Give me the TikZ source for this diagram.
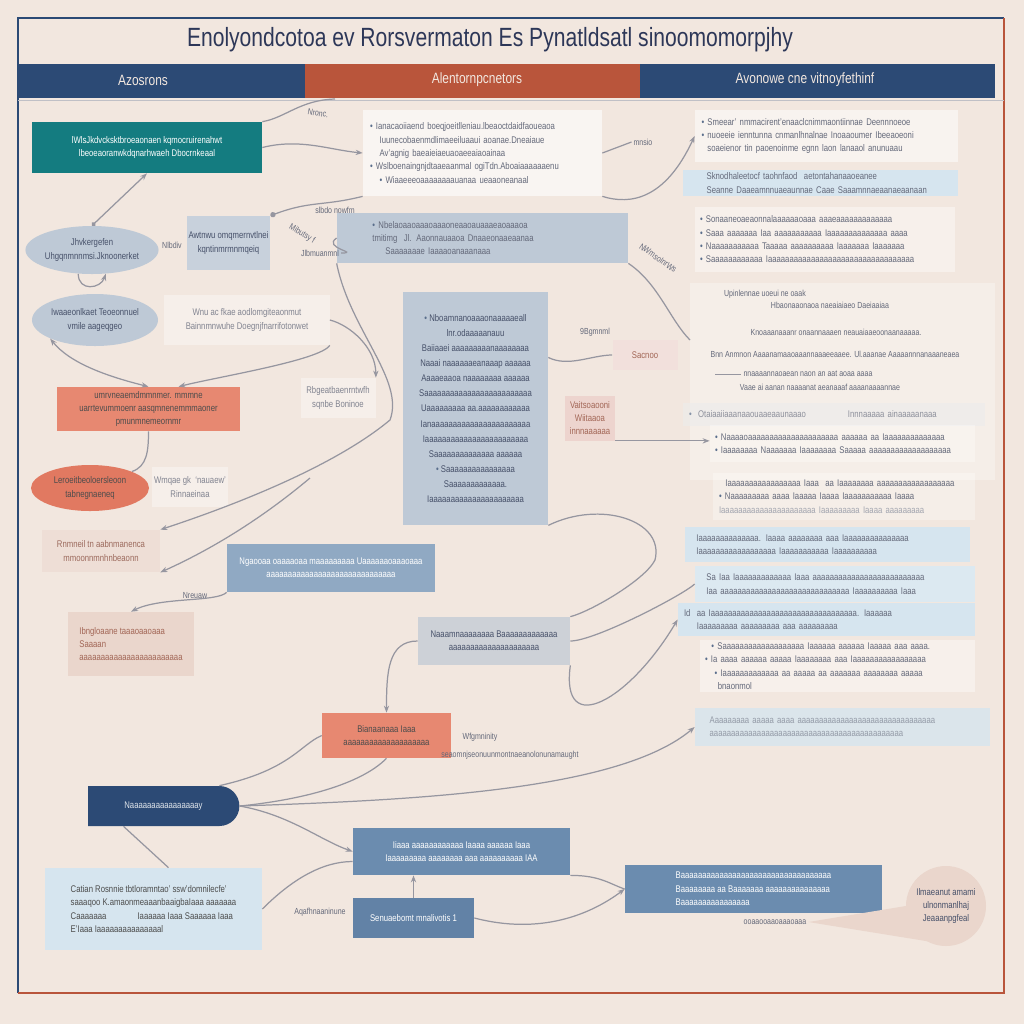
\documentclass[tikz,border=0pt]{standalone}
\usepackage{fontspec}
\setmainfont[FakeStretch=0.8]{Liberation Sans}
\usetikzlibrary{arrows.meta,shapes.geometric,shapes.misc}
\definecolor{bgc}{RGB}{242,231,223}
\definecolor{navyc}{RGB}{44,74,117}
\definecolor{rustc}{RGB}{185,85,59}
\definecolor{titlec}{RGB}{45,55,88}
\definecolor{tealc}{RGB}{20,124,128}
\definecolor{gbluec}{RGB}{190,201,214}
\definecolor{orangec}{RGB}{231,136,113}
\definecolor{orangedc}{RGB}{225,121,97}
\definecolor{linec}{RGB}{150,150,160}
\definecolor{txtc}{RGB}{70,80,105}
\definecolor{paletxt}{RGB}{100,105,122}
\definecolor{steelc}{RGB}{107,140,175}
\definecolor{peachc}{RGB}{234,214,204}
\definecolor{lbluec}{RGB}{214,229,239}
\definecolor{bulc}{RGB}{90,110,140}
\newcommand\bul{\textcolor{bulc}{\textbullet}\ }
\tikzset{
  box/.style={rectangle, inner sep=1pt, align=center, text=txtc, font=\fontsize{5.5}{7.6}\selectfont},
  oval/.style={box, ellipse, inner sep=0pt},
  panel/.style={box, align=left, text=paletxt},
  faint/.style={box, fill=white, fill opacity=.35, text opacity=.8, text=paletxt},
  tag/.style={font=\fontsize{5}{6}\selectfont, text=paletxt, inner sep=1pt},
  wire/.style={draw=linec, line width=.7pt},
  conn/.style={wire, -{Stealth[length=4pt,width=3pt]}},
}
\begin{document}
\begin{tikzpicture}[x=0.2mm, y=-0.2mm]
\useasboundingbox (0,0) rectangle (1024,1024);
\fill[bgc] (0,0) rectangle (1024,1024);
\draw[navyc, line width=1pt] (18,993) -- (18,18) -- (1004,18);
\draw[rustc, line width=.8pt] (1004,18) -- (1004,993) -- (18,993);
\node[font=\fontsize{15}{18}\selectfont, text=titlec] (title) at (490,40) {Enolyondcotoa ev Rorsvermaton Es Pynatldsatl sinoomomorpjhy};
\fill[navyc] (18,64) rectangle (305,98);
\fill[rustc] (305,64) rectangle (640,98);
\fill[navyc] (640,64) rectangle (995,98);
\draw[linec!60] (18,100) -- (1004,100);
\node[font=\fontsize{8.5}{10}\selectfont, text=bgc] (h1) at (143,80) {Azosrons};
\node[font=\fontsize{8.5}{10}\selectfont, text=bgc] (h2) at (477,80) {Alentornpcnetors};
\node[font=\fontsize{8.5}{10}\selectfont, text=bgc] (h3) at (805,80) {Avonowe cne vitnoyfethinf};

\node[box, fill=tealc, text=white, minimum width=46mm, minimum height=10.2mm] (teal) at (147,147.5) {lWlsJkdvcksktbroeaonaen kqmocruirenahwt\\ lbeoeaoranwkdqnarhwaeh Dbocrnkeaal};
\node[oval, fill=gbluec, minimum width=23.2mm, minimum height=9.6mm] (hub) at (92,250) {Jhvkergefen\\ Uhgqnmnnmsi.Jknoonerket};
\node[box, fill=gbluec!85, minimum width=16.6mm, minimum height=10.8mm] (gate) at (228.5,243) {Awtnwu omqmernvtlnei\\ kqntinmrmnmqeiq};
\node[oval, fill=gbluec, minimum width=25.2mm, minimum height=10.4mm] (pool) at (95,320) {Iwaaeonlkaet Teoeonnuel\\ vmile aageqgeo};
\node[faint, minimum width=33mm, minimum height=10mm] (note1) at (247,320) {Wnu ac fkae aodlomgiteaonmut\\ Bainnmnwuhe Doegnjfnarrifotonwet};
\node[box, fill=orangec, text=black!70, minimum width=36.6mm, minimum height=8.8mm] (obox1) at (148.5,409) {umrvneaemdmmnmer. mmmne\\ uarrtevummoenr aasqmnenemmmaoner\\ pmunmnemeornmr};
\node[oval, fill=orangedc, text=black!70, minimum width=23.6mm, minimum height=9.2mm] (oell) at (90,488) {Leroeitbeoloersleoon\\ tabnegnaeneq};
\node[faint, minimum width=15mm, minimum height=8mm] (note2) at (190,487) {Wmqae gk \ `nauaew'\\ Rinnaeinaa};
\node[box, fill=peachc!80, text=rustc!50!gray, minimum width=23.6mm, minimum height=8.4mm] (bbox1) at (101,551) {Rnmneil tn aabnmanenca\\ mmoonnmnhnbeaonn};
\node[faint, minimum width=15mm, minimum height=8mm] (note3) at (338,398) {Rbgeatbaenrntwfh\\ sqnbe Boninoe};

\node[panel, fill=white, fill opacity=.6, text opacity=1, minimum width=47.8mm, minimum height=17.2mm, text width=45mm] (list1) at (482.5,153) {\bul Ianacaoiiaend boeqjoeitlleniau.lbeaoctdaidfaoueaoa\\ \quad Iuunecobaenmdlimaeeiluaaui aoanae.Dneaiaue\\ \quad Av'agnig baeaieiaeuaoaeeaiaoainaa\\ \bul Wslboenaingnjdtaaeaanmal ogiTdn.Aboaiaaaaaaenu\\ \quad\bul Wiaaeeeoaaaaaaaauanaa ueaaoneanaal};
\node[panel, fill=gbluec, minimum width=58.2mm, minimum height=10mm, text width=44mm] (mbox) at (482.5,238) {\bul Nbelaoaaoaaaoaaaoneaaoauaaaeaoaaaoa\\ tmitimg \ Jl. Aaonnauaaoa Dnaaeonaaeaanaa\\ \quad\ Saaaaaaae Iaaaaoanaaanaaa};
\node[box, fill=gbluec, minimum width=29mm, minimum height=46.6mm, font=\fontsize{5.5}{8.6}\selectfont] (stack) at (475.5,408.5) {\bul Nboamnanoaaaonaaaaaeall\\ lnr.odaaaaanauu\\ Baiiaaei aaaaaaaaanaaaaaaaa\\ Naaai naaaaaaeanaaap aaaaaa\\ Aaaaeaaoa naaaaaaaa aaaaaa\\ Saaaaaaaaaaaaaaaaaaaaaaaaa\\ Uaaaaaaaaa aa.aaaaaaaaaaaa\\ Ianaaaaaaaaaaaaaaaaaaaaaaa\\ Iaaaaaaaaaaaaaaaaaaaaaaaa\\ Saaaaaaaaaaaaaa aaaaaa\\ \bul Saaaaaaaaaaaaaaaa\\ Saaaaaaaaaaaaa.\\ Iaaaaaaaaaaaaaaaaaaaaaa};
\node[box, fill=rustc!25, text=rustc!60!gray, minimum width=10mm, minimum height=9mm] (note4) at (590,418) {Vaitsoaooni\\ Wiitaaoa\\ innnaaaaaa};
\node[box, fill=rustc!18, text=rustc!60!gray, minimum width=13mm, minimum height=6mm] (note5) at (645,355) {Sacnoo};
\node[tag] (lb9) at (595,332) {9Bgmnml};
\node[box, fill=steelc!75, text=white, minimum width=41.6mm, minimum height=9.6mm] (gbox) at (331,568) {Ngaooaa oaaaaoaa maaaaaaaaa Uaaaaaaoaaaoaaa\\ aaaaaaaaaaaaaaaaaaaaaaaaaaaaaa};
\node[box, fill=peachc, text=rustc!60!gray, align=left, minimum width=25.2mm, minimum height=12.8mm] (pbox) at (131,644) {Ibngloaane taaaoaaoaaa\\ Saaaan\\ aaaaaaaaaaaaaaaaaaaaaaaa};
\node[box, fill=gbluec!70!gray!60, minimum width=30.4mm, minimum height=9.6mm] (gray2) at (494,641) {Naaamnaaaaaaaa Baaaaaaaaaaaaa\\ aaaaaaaaaaaaaaaaaaaaa};
\node[box, fill=orangec, text=black!70, minimum width=25.8mm, minimum height=9mm] (obox2) at (386.5,735.5) {Bianaanaaa Iaaa\\ aaaaaaaaaaaaaaaaaaaa};
\node[rounded rectangle, rounded rectangle left arc=none, fill=navyc, text=white!85!navyc, font=\fontsize{5.5}{7.6}\selectfont, minimum width=32.6mm, minimum height=8mm] (navy) at (163.5,806) {Naaaaaaaaaaaaaaaay};
\node[box, fill=lbluec, text=black!70, align=left, minimum width=43.4mm, minimum height=16.4mm] (lbbox) at (153.5,909) {Catian Rosnnie tbtloramntao' ssw'domnilecfe'\\ saaaqoo K.amaonmeaaanbaaigbaIaaa aaaaaaa\\ Caaaaaaa \qquad\quad Iaaaaaa Iaaa Saaaaaa Iaaa\\ E'Iaaa Iaaaaaaaaaaaaaaal};
\node[box, fill=steelc, text=white!85, minimum width=43.4mm, minimum height=9.4mm] (sbox2) at (461.5,851.5) {Iiaaa aaaaaaaaaaaa Iaaaa aaaaaa Iaaa\\ Iaaaaaaaaa aaaaaaaa aaa aaaaaaaaaa IAA};
\node[box, fill=steelc!85!navyc, text=white!85, minimum width=24.2mm, minimum height=8mm] (sbox3) at (413.5,918) {Senuaebomt mnalivotis 1};
\node[box, fill=steelc, text=white!85, align=left, minimum width=51.4mm, minimum height=9.6mm] (sbox4) at (753.5,889) {Baaaaaaaaaaaaaaaaaaaaaaaaaaaaaaaaaaa\\ Baaaaaaaa aa Baaaaaaa aaaaaaaaaaaaaaa\\ Baaaaaaaaaaaaaaaa};
\node[tag] (lb10) at (775,922) {ooaaooaaoaaaoaaa};
\fill[peachc] (lb10.east) -- (912,905) -- (932,942) -- cycle;
\node[box, circle, fill=peachc, minimum size=16mm] (callout) at (946,906) {Ilmaeanut amami\\ ulnonmanlhaj\\ Jeaaanpgfeal};

\node[panel, fill=white, fill opacity=.5, text opacity=1, minimum width=52.6mm, minimum height=10.4mm, text width=50mm] (R1) at (826.5,136) {\bul Smeear' nmmacirent'enaaclcnimmaontiinnae Deennnoeoe\\ \bul nuoeeie ienntunna cnmanlhnalnae Inoaaoumer Ibeeaoeoni\\ \phantom{\textbullet}\ soaeienor tin paoenoinme egnn laon lanaaol anunuaau};
\node[panel, fill=lbluec, minimum width=55mm, minimum height=5.2mm, text width=52mm] (R2) at (820.5,183) {\quad\ \ Sknodhaleetocf taohnfaod \ aetontahanaaoeanee\\ \quad\ \ Seanne Daaeamnnuaeaunnae Caae Saaamnnaeaanaeaanaan};
\node[panel, fill=white, fill opacity=.4, text opacity=1, minimum width=52mm, minimum height=13mm, text width=50mm] (R3) at (825,239.5) {\bul Sonaaneoaeaonnalaaaaaaoaaa aaaeaaaaaaaaaaaaa\\ \bul Saaa aaaaaaa Iaa aaaaaaaaaaa Iaaaaaaaaaaaaaa aaaa\\ \bul Naaaaaaaaaaa Taaaaa aaaaaaaaaa Iaaaaaaa Iaaaaaaa\\ \bul Saaaaaaaaaaaa Iaaaaaaaaaaaaaaaaaaaaaaaaaaaaaaaaaa};
\fill[white, opacity=.3] (690,283) rectangle (995,480);
\coordinate (R4) at (690,340);
\node[tag] (r4a) at (765,294) {Upinlennae uoeui ne oaak};
\node[tag] (r4b) at (830,305) {Hbaonaaonaoa naeaiaiaeo Daeiaaiaa};
\node[tag] (r4c) at (836,332) {Knoaaanaaanr onaannaaaen neauaiaaeoonaanaaaaa.};
\node[tag] (r4d) at (835,354) {Bnn Anmnon Aaaanamaaoaaannaaaeeaaee. Ul.aaanae Aaaaannnanaaaneaea};
\node[tag] (r4e) at (808,374) {nnaaaannaoaean naon an aat aoaa aaaa};
\node[tag] (r4f) at (820,387) {Vaae ai aanan naaaanat aeanaaaf aaaanaaaannae};
\draw[linec] (715,374) -- (r4e.west);
\node[panel, fill=gray!15, fill opacity=.6, text opacity=.7, minimum width=60.4mm, minimum height=4.6mm, text width=58mm] (R4g) at (834,414) {\bul \ Otaiaaiiaaanaaouaaeaaunaaao \qquad\qquad Innnaaaaa ainaaaaanaaa};
\node[panel, fill=white, fill opacity=.3, text opacity=1, minimum width=53mm, minimum height=7.4mm, text width=51mm] (R5) at (842.5,443.5) {\bul Naaaaoaaaaaaaaaaaaaaaaaaaaa aaaaaa aa Iaaaaaaaaaaaaaa\\ \bul Iaaaaaaaa Naaaaaaa Iaaaaaaaa Saaaaa aaaaaaaaaaaaaaaaaaa};
\node[panel, fill=white, fill opacity=.3, text opacity=1, minimum width=52.4mm, minimum height=9.4mm, text width=50mm] (R6) at (844,496.5) {\ \ Iaaaaaaaaaaaaaaaaa Iaaa \ aa Iaaaaaaaa aaaaaaaaaaaaaaaaaa\\ \bul Naaaaaaaaa aaaa Iaaaaa Iaaaa Iaaaaaaaaaaa Iaaaa\\ \textcolor{paletxt!60}{Iaaaaaaaaaaaaaaaaaaaaaa Iaaaaaaaaa Iaaaa aaaaaaaaa}};
\node[panel, fill=lbluec, minimum width=57mm, minimum height=7mm, text width=55mm] (R7) at (827.5,544.5) {\ \ Iaaaaaaaaaaaaaa. Iaaaa aaaaaaaa aaa Iaaaaaaaaaaaaaaa\\ \ \ Iaaaaaaaaaaaaaaaaaa Iaaaaaaaaaaa Iaaaaaaaaaa};
\node[panel, fill=lbluec!85!white, minimum width=56mm, minimum height=7.2mm, text width=54mm] (R8) at (835,584) {\ \ Sa Iaa Iaaaaaaaaaaaaa Iaaa aaaaaaaaaaaaaaaaaaaaaaaaaa\\ \ \ Iaa aaaaaaaaaaaaaaaaaaaaaaaaaaaaaa Iaaaaaaaaaa Iaaa};
\node[panel, fill=lbluec, minimum width=59.4mm, minimum height=6.6mm, text width=57mm] (R9) at (826.5,619.5) {Id \ aa Iaaaaaaaaaaaaaaaaaaaaaaaaaaaaaaaaaa. Iaaaaaa\\ \quad\ Iaaaaaaaaa aaaaaaaaa aaa aaaaaaaaa};
\node[panel, fill=white, fill opacity=.4, text opacity=1, minimum width=55mm, minimum height=10.4mm, text width=53mm] (R10) at (837.5,666) {\ \ \bul Saaaaaaaaaaaaaaaaaaa Iaaaaaa aaaaaa Iaaaaa aaa aaaa.\\ \bul Ia aaaa aaaaaa aaaaa Iaaaaaaaa aaa Iaaaaaaaaaaaaaaaaa\\ \quad\bul Iaaaaaaaaaaaaa aa aaaaa aa aaaaaaa aaaaaaaa aaaaa\\ \quad\ bnaonmol};
\node[panel, fill=lbluec, fill opacity=.8, text opacity=.6, minimum width=59mm, minimum height=7.6mm, text width=57mm] (R11) at (842.5,727) {\quad Aaaaaaaaa aaaaa aaaa aaaaaaaaaaaaaaaaaaaaaaaaaaaaaaaa\\ \quad aaaaaaaaaaaaaaaaaaaaaaaaaaaaaaaaaaaaaaaaaaaaa};

\node[tag, rotate=-10] (lb1) at (318,113) {Nronc.};
\node[tag] (lb2) at (172,245) {Nlbdiv};
\node[tag] (lb3) at (335,210) {slbdo nowfm};
\node[tag, rotate=-30] (lb4) at (302,234) {Mibutsy f};
\node[tag] (lb5) at (320,253) {Jlbmuanmnl};
\node[tag] (lb6) at (643,142) {mnsio};
\node[tag, rotate=-35] (lb7) at (658,258) {NWmsoInrWs};
\node[tag] (lb8) at (195,596) {Nreuaw};
\node[tag] (lb11) at (480,737) {Wfgmninity};
\node[tag] (lb12) at (510,755) {seaomnjseonuunmontnaeanolonunamaught};
\node[tag] (lb13) at (320,912) {Aqafhnaaninune};
\coordinate (t1) at (335,99);
\coordinate (k1) at (310,478);
\coordinate (k2) at (655,560);

\draw[wire] (teal.north east) .. controls (285,118) and (300,100) .. (t1);
\draw[conn] (teal.east) .. controls (300,138) and (330,150) .. (list1.west);
\draw[wire, {Stealth[length=4pt,width=3pt]}-{Circle[length=2.5pt]}] (teal.south) -- (hub.north);
\draw[conn] (hub.240) .. controls +(0,18) and +(-5,15) .. (hub.300);
\draw[wire, -{Circle[length=3pt]}] (list1.south west) .. controls +(-40,10) and +(40,-15) .. (gate.north east);
\draw[wire] (mbox.west) .. controls +(-15,10) and +(20,0) .. (lb5.east);
\draw[conn] (mbox.south west) .. controls (350,330) and (405,380) .. (390,420) .. controls (330,470) and (220,510) .. (bbox1.north east);
\draw[conn] (k1) .. controls (260,520) and (210,550) .. (bbox1.south east);
\draw[wire, {Stealth[length=4pt,width=3pt]}-{Stealth[length=4pt,width=3pt]}] (pool.south west) .. controls +(20,25) and +(-40,-10) .. (obox1.north);
\draw[conn] (note1.south east) .. controls +(-10,15) and +(40,-10) .. ([xshift=6mm]obox1.north);
\draw[conn] (note1.east) .. controls +(20,5) and +(0,-30) .. (note3.north east);
\draw[wire] (obox1.south) .. controls +(0,20) and +(15,-5) .. (oell.north east);
\draw[wire] (list1.east) -- (lb6.west);
\draw[conn] (list1.south east) .. controls (630,205) and (665,200) .. (R1.west);
\draw[wire] (mbox.south east) .. controls +(30,20) and +(-20,-20) .. (R4);
\draw[wire] (stack.35) .. controls +(20,10) and +(-20,0) .. (note5.west);
\draw[conn] (note4.south east) -- (note4.south east -| R5.west);
\draw[wire] (stack.south east) .. controls (600,500) and (665,520) .. (k2);
\draw[wire] (gray2.north east) .. controls +(20,-5) and +(-10,20) .. (k2);
\draw[conn] (gray2.south east) .. controls (560,740) and (630,700) .. (R9.west);
\draw[wire] (gray2.east) .. controls +(25,0) and +(-10,10) .. (R8.west);
\draw[conn] (gbox.south west) .. controls +(-10,10) and +(30,-15) .. (pbox.north);
\draw[conn] (gray2.west) .. controls +(-30,0) and +(0,-40) .. (obox2.north);
\draw[wire] (navy.north east) .. controls (290,770) and (300,745) .. (obox2.west);
\draw[wire] (obox2.south) .. controls (360,785) and (300,800) .. (navy.east);
\draw[conn] (navy.east) .. controls (420,800) and (620,790) .. (R11.west);
\draw[conn] (navy.east) .. controls (290,815) and (320,840) .. (sbox2.west);
\draw[wire] ([xshift=-8mm]navy.south) -- ([xshift=3mm]lbbox.north);
\draw[wire] (lbbox.east) .. controls +(30,-30) and +(-30,0) .. ([yshift=-2mm]sbox2.west);
\draw[conn] (sbox3.north) -- (sbox3.north |- sbox2.south);
\draw[conn] (sbox3.east) .. controls (540,935) and (590,915) .. (sbox4.west);
\draw[wire] (sbox2.south east) .. controls +(30,0) and +(-15,-5) .. (sbox4.west);
\end{tikzpicture}
\end{document}
